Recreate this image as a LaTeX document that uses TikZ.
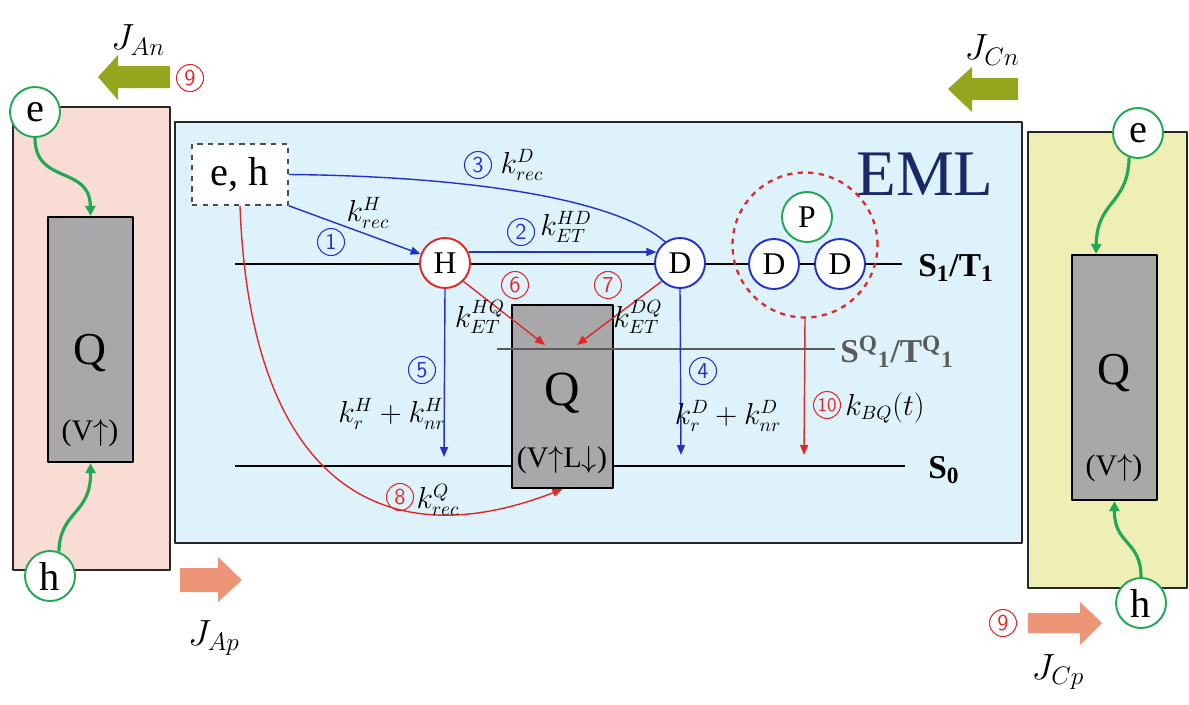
\documentclass[tikz,border=0pt]{standalone}
\usepackage{fontspec}
\setmainfont{Liberation Serif}
\usetikzlibrary{arrows.meta,positioning}
\definecolor{anodefill}{RGB}{249,221,212}
\definecolor{emlfill}{RGB}{222,242,251}
\definecolor{cathfill}{RGB}{239,238,180}
\definecolor{qgray}{RGB}{168,168,170}
\definecolor{carriergreen}{RGB}{34,168,84}
\definecolor{rateblue}{RGB}{35,50,205}
\definecolor{ratered}{RGB}{225,40,40}
\definecolor{emlnavy}{RGB}{25,40,105}
\definecolor{fluxolive}{RGB}{148,165,30}
\definecolor{fluxorange}{RGB}{236,148,118}
\definecolor{linegray}{RGB}{90,90,90}
\tikzset{
  px/.style={x=0.02cm,y=-0.02cm},
  slab/.style={draw=black!85,line width=1.3pt},
  qbox/.style={draw=black,line width=1.3pt,fill=qgray,inner sep=0pt},
  carrier/.style={circle,draw=carriergreen,fill=white,line width=1.1pt,
    minimum size=1.0cm,inner sep=0pt,font=\fontsize{23}{23}\selectfont},
  exciton/.style={circle,fill=white,line width=1.1pt,minimum size=1.0cm,
    inner sep=0pt,font=\fontsize{18}{18}\selectfont},
  rnum/.style={circle,draw,line width=0.6pt,minimum size=0.54cm,inner sep=0pt,
    font=\sffamily\fontsize{13}{13}\selectfont},
  rate/.style={font=\fontsize{16}{16}\selectfont,inner sep=0pt},
  stateline/.style={line width=1.4pt},
  lvl/.style={font=\bfseries\fontsize{19}{19}\selectfont,inner sep=0pt,anchor=west},
  inject/.style={carriergreen,line width=1.8pt,-{Triangle[length=0.2cm,width=0.2cm]}},
  bluearr/.style={rateblue,line width=0.8pt,-{Triangle[length=0.2cm,width=0.16cm]}},
  redarr/.style={ratered,line width=0.8pt,-{Triangle[length=0.2cm,width=0.16cm]}},
  flux/.style={font=\fontsize{22}{22}\selectfont,inner sep=0pt},
  qtext/.style={font=\fontsize{26}{26}\selectfont,inner sep=0pt},
  vtext/.style={font=\fontsize{17}{17}\selectfont,inner sep=0pt}
}

\begin{document}
\begin{tikzpicture}[px,line join=round]
  \useasboundingbox (0,0) rectangle (1189,704);

  % transport layers
  \draw[slab,fill=anodefill] (13,107) rectangle (170,570);
  \draw[slab,fill=emlfill] (175,122) rectangle (1022,543);
  \draw[slab,fill=cathfill] (1028,132) rectangle (1187,588);

  % flux arrows
  \fill[fluxolive] (170,66) -- (118,66) -- (118,55) -- (98,77) -- (118,100) -- (118,88) -- (170,88) -- cycle;
  \fill[fluxolive] (1018,78) -- (972,78) -- (972,67) -- (948,89) -- (972,112) -- (972,100) -- (1018,100) -- cycle;
  \fill[fluxorange] (180,568) -- (218,568) -- (218,557) -- (242,580) -- (218,602) -- (218,592) -- (180,592) -- cycle;
  \fill[fluxorange] (1028,613) -- (1080,613) -- (1080,602) -- (1102,623) -- (1080,645) -- (1080,633) -- (1028,633) -- cycle;
  \node[flux] (JAn) at (138,40) {$J_{An}$};
  \node[flux] (JCn) at (992,50) {$J_{Cn}$};
  \node[flux] (JAp) at (214,638) {$J_{Ap}$};
  \node[flux] (JCp) at (1058,672) {$J_{Cp}$};
  \node[rnum,draw=ratered,text=ratered] (n9a) at (190,78) {9};
  \node[rnum,draw=ratered,text=ratered] (n9b) at (1003,623) {9};

  % electrodes side boxes
  \node[qbox,minimum width=1.7cm,minimum height=4.9cm] (Ql) at (90.5,339.5) {};
  \node[qtext] (QlQ) at (90,353) {Q};
  \node[vtext] (QlV) at (90,433) {(V$\uparrow$)};
  \node[qbox,minimum width=1.7cm,minimum height=4.9cm] (Qr) at (1114.5,377.5) {};
  \node[qtext] (QrQ) at (1114,373) {Q};
  \node[vtext] (QrV) at (1114,468) {(V$\uparrow$)};

  \node[carrier] (eL) at (35,112) {e};
  \node[carrier] (hL) at (50,576) {h};
  \node[carrier] (eR) at (1138,133) {e};
  \node[carrier] (hR) at (1141,603) {h};
  \draw[inject] (eL.south) .. controls (35,185) and (90,165) .. (Ql.north);
  \draw[inject] (hL.70) .. controls (60,510) and (91,515) .. (Ql.south);
  \draw[inject] (eR.250) .. controls (1128,205) and (1097,200) .. ([xshift=-0.37cm]Qr.north);
  \draw[inject] (hR.north) .. controls (1141,540) and (1114,545) .. (Qr.south);

  % EML
  \node[font=\fontsize{37}{37}\selectfont,text=emlnavy,inner sep=0pt] (eml) at (925,174) {EML};
  \node[draw=black!70,dashed,line width=0.9pt,fill=white,minimum width=1.92cm,
    minimum height=1.22cm,inner sep=0pt,font=\fontsize{23}{23}\selectfont] (eh) at (240,174.5) {e, h};

  \draw[stateline] (235,264) -- (902,264);
  \draw[stateline] (235,466) -- (905,466);
  \node[lvl] (s1) at (918,268) {S\textsubscript{1}/T\textsubscript{1}};
  \node[lvl] (s0) at (928,470) {S\textsubscript{0}};

  \node[qbox,minimum width=2.02cm,minimum height=3.66cm] (Qc) at (562.5,396.5) {};
  \node[qtext,font=\fontsize{28}{28}\selectfont] (QcQ) at (562,393) {Q};
  \node[vtext] (QcV) at (562,460) {(V$\uparrow$L$\downarrow$)};
  \draw[stateline,linegray] (497,349) -- (835,349);
  \node[lvl,text=linegray] (sq) at (840,352) {S\textsuperscript{Q}\textsubscript{1}/T\textsuperscript{Q}\textsubscript{1}};

  \node[circle,draw=ratered,dashed,line width=1.3pt,minimum size=2.9cm] (ring) at (805,245) {};
  \node[exciton,draw=ratered] (H) at (445,263) {H};
  \node[exciton,draw=rateblue] (D) at (680,263) {D};
  \node[exciton,draw=rateblue] (D2) at (774,264) {D};
  \node[exciton,draw=rateblue] (D3) at (840,264) {D};
  \node[exciton,draw=carriergreen] (P) at (807,217) {P};

  % rate processes
  \draw[bluearr] (eh.south east) -- (H.160);
  \draw[bluearr] (H.25) -- (D.155);
  \draw[rateblue,line width=0.8pt] (eh.east) .. controls (450,176) and (610,195) .. (D.125);
  \draw[bluearr] (D.south) -- (681,455);
  \draw[bluearr] (H.south) -- (444,457);
  \draw[redarr] (H.-45) -- (545,345);
  \draw[redarr] (D.-135) -- (577,345);
  \draw[redarr] (eh.south) .. controls (250,480) and (380,560) .. (Qc.south);
  \draw[redarr] (ring.south) -- (804,455);

  \node[rnum,draw=rateblue,text=rateblue] (n1) at (331,242) {1};
  \node[rate] (k1) at (368,213) {$k^{H}_{rec}$};
  \node[rnum,draw=rateblue,text=rateblue] (n2) at (521,232) {2};
  \node[rate,anchor=west] (k2) at (540,227) {$k^{HD}_{ET}$};
  \node[rnum,draw=rateblue,text=rateblue] (n3) at (478,165) {3};
  \node[rate] (k3) at (522,165) {$k^{D}_{rec}$};
  \node[rnum,draw=rateblue,text=rateblue] (n4) at (703,371) {4};
  \node[rate] (k4) at (728,416) {$k^{D}_{r}+k^{D}_{nr}$};
  \node[rnum,draw=rateblue,text=rateblue] (n5) at (422,370) {5};
  \node[rate] (k5) at (392,414) {$k^{H}_{r}+k^{H}_{nr}$};
  \node[rnum,draw=ratered,text=ratered] (n6) at (515,285) {6};
  \node[rate] (k6) at (480,317) {$k^{HQ}_{ET}$};
  \node[rnum,draw=ratered,text=ratered] (n7) at (608,285) {7};
  \node[rate] (k7) at (638,317) {$k^{DQ}_{ET}$};
  \node[rnum,draw=ratered,text=ratered] (n8) at (400,497) {8};
  \node[rate] (k8) at (438,500) {$k^{Q}_{rec}$};
  \node[rnum,draw=ratered,text=ratered,font=\sffamily\fontsize{11}{11}\selectfont] (n10) at (827,405) {10};
  \node[rate,anchor=west] (k10) at (845,408) {$k_{BQ}(t)$};
\end{tikzpicture}
\end{document}
